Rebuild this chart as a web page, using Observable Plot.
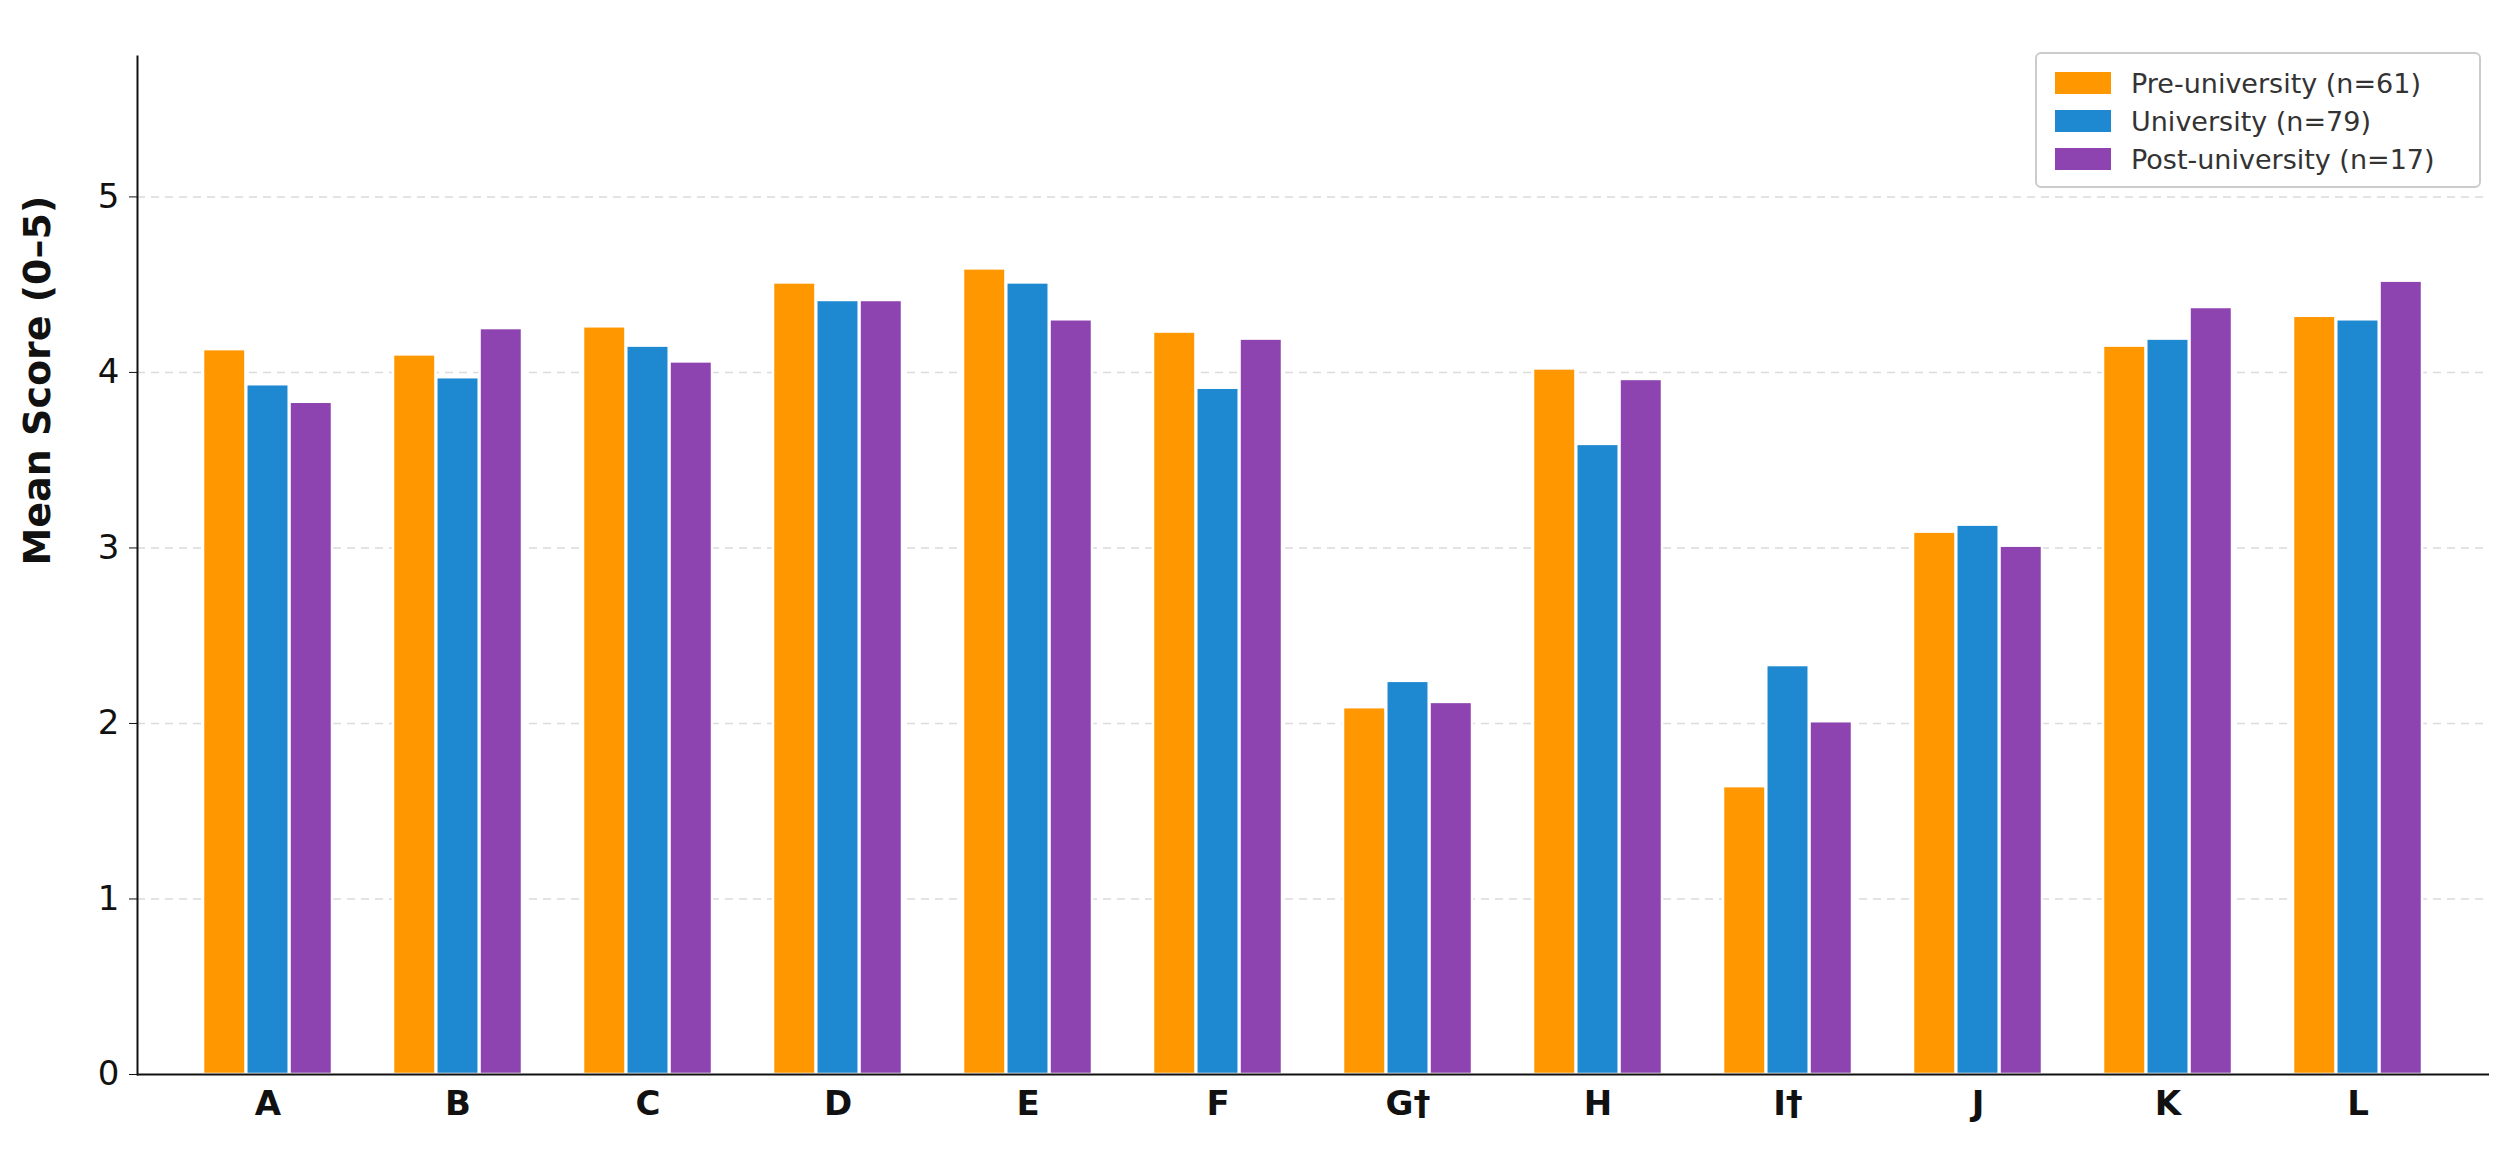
<!DOCTYPE html>
<html><head><meta charset="utf-8">
<script src="https://cdn.jsdelivr.net/npm/d3@7"></script>
<script src="https://cdn.jsdelivr.net/npm/@observablehq/plot@0.6"></script>
<style>
body{margin:0;background:#fff;font-family:"DejaVu Sans",sans-serif;}
#wrap{position:relative;width:2518px;height:1158px;}
#legend{position:absolute;left:2035px;top:52px;width:446px;border:2px solid #ccc;border-radius:6px;background:#fff;padding:10px 0 8px 18px;box-sizing:border-box;font-size:27px;color:#333;}
#legend div{display:flex;align-items:center;height:38px;}
#legend span.sw{display:inline-block;width:56px;height:22px;margin-right:20px;}
</style></head>
<body><div id="wrap"><div id="legend"></div></div>
<script>
const categories = ["A","B","C","D","E","F","G†","H","I†","J","K","L"];
const series = ["Pre-university (n=61)","University (n=79)","Post-university (n=17)"];
const colors = ["#FF9800","#1E88D0","#8E44B0"];
const preUni  = [4.13,4.10,4.26,4.51,4.59,4.23,2.09,4.02,1.64,3.09,4.15,4.32];
const uni     = [3.93,3.97,4.15,4.41,4.51,3.91,2.24,3.59,2.33,3.13,4.19,4.30];
const postUni = [3.83,4.25,4.06,4.41,4.30,4.19,2.12,3.96,2.01,3.01,4.37,4.52];
const yTicks = [0,1,2,3,4,5];

const vals=[preUni,uni,postUni];
const W=2518, mL=137, mR=29, pad=0.32;
const step=(W-mL-mR)/(categories.length+pad);
const bw=step*(1-pad), w=bw/3;

const barMarks = vals.map((v,j)=>Plot.barY(categories.map((c,i)=>({cat:c,value:v[i]})),{
  x:"cat", y:"value", fill:colors[j], stroke:"white", strokeWidth:2.5,
  insetLeft:j*w, insetRight:(2-j)*w
}));

const chart = Plot.plot({
  width:W, height:1158,
  marginLeft:mL, marginRight:mR, marginTop:56, marginBottom:84,
  style:{fontFamily:"DejaVu Sans, sans-serif", fontSize:"34px", color:"#111", background:"#fff"},
  x:{domain:categories, padding:pad, label:null},
  y:{domain:[0,5.8], label:null},
  marks:[
    Plot.gridY(yTicks.slice(1),{stroke:"#999",strokeOpacity:0.35,strokeDasharray:"8,6",strokeWidth:1.5}),
    ...barMarks,
    Plot.axisY(yTicks,{tickSize:8,tickPadding:10,fontSize:34,tickFormat:"d",label:null}),
    Plot.axisX({tickSize:0,tickPadding:16,fontSize:34,fontWeight:"bold",label:null}),
    Plot.ruleY([0],{stroke:"#111",strokeWidth:2}),
    Plot.frame({anchor:"left",stroke:"#111",strokeWidth:2}),
    Plot.text(["Mean Score (0–5)"],{frameAnchor:"left",dx:-100,rotate:-90,fontSize:38,fontWeight:"bold"})
  ]
});
document.getElementById("wrap").prepend(chart);
const lg=document.getElementById("legend");
series.forEach((s,i)=>{const d=document.createElement("div");d.innerHTML=`<span class="sw" style="background:${colors[i]}"></span>${s}`;lg.appendChild(d);});
</script></body></html>
